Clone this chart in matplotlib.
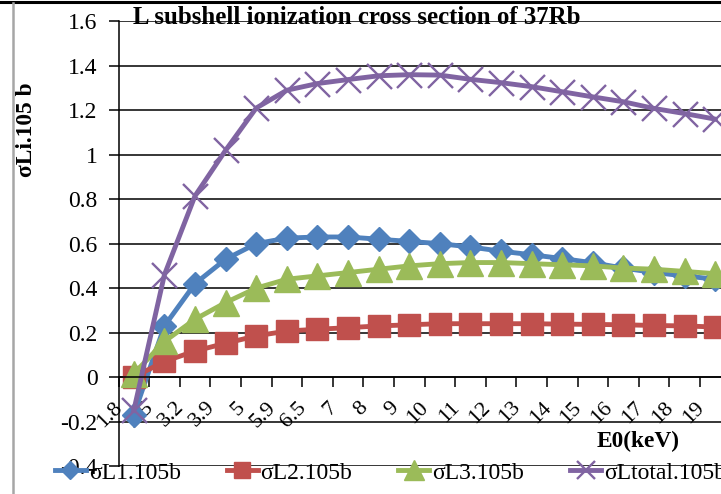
import numpy as np
import matplotlib
matplotlib.use('Agg')
import matplotlib.pyplot as plt
import matplotlib.transforms as mtransforms
from matplotlib.lines import Line2D

# data
energies = ['1.8', '2.5', '3.2', '3.9', '5', '5.9', '6.5', '7', '8', '9',
            '10', '11', '12', '13', '14', '15', '16', '17', '18', '19']
sL1 = [-0.17, 0.23, 0.42, 0.53, 0.60, 0.625, 0.63, 0.63, 0.62, 0.61,
       0.60, 0.585, 0.566, 0.55, 0.533, 0.514, 0.49, 0.47, 0.455, 0.44]
sL2 = [0.0, 0.07, 0.117, 0.152, 0.185, 0.207, 0.215, 0.222, 0.23, 0.235,
       0.24, 0.24, 0.24, 0.24, 0.238, 0.237, 0.235, 0.232, 0.23, 0.225]
sL3 = [0.015, 0.16, 0.26, 0.335, 0.40, 0.44, 0.455, 0.47, 0.485, 0.50,
       0.51, 0.515, 0.515, 0.51, 0.505, 0.50, 0.49, 0.485, 0.475, 0.465]
sLtot = [-0.15, 0.46, 0.815, 1.02, 1.21, 1.29, 1.32, 1.338, 1.355, 1.36,
         1.358, 1.339, 1.324, 1.306, 1.283, 1.26, 1.238, 1.208, 1.185, 1.16]
names = ['σL1.105b', 'σL2.105b', 'σL3.105b', 'σLtotal.105b']
ytick_vals = [-0.4, -0.2, 0, 0.2, 0.4, 0.6, 0.8, 1.0, 1.2, 1.4, 1.6]
ytick_labels = ['-0.4', '-0.2', '0', '0.2', '0.4', '0.6', '0.8', '1', '1.2', '1.4', '1.6']

plt.rcParams['font.family'] = ['Liberation Serif', 'DejaVu Serif']

W, H = 721, 494
fig = plt.figure(figsize=(W / 100, H / 100), dpi=100)
left, right, top, bot = 118.5, 730.6, 21.3, 466.0
ax = fig.add_axes([left / W, 1 - bot / H, (right - left) / W, (bot - top) / H])

x = np.arange(len(energies))
styles = [
    ('#4F81BD', 'D', 12, 1.0),
    ('#C0504D', 's', 16, 1.0),
    ('#9BBB59', '^', 19, 1.0),
    ('#8064A2', 'x', 18, 1.7),
]
lines = []
for vals, name, (c, m, ms, mew) in zip([sL1, sL2, sL3, sLtot], names, styles):
    ln, = ax.plot(x, vals, color=c, lw=3.5, marker=m, ms=ms, mew=mew,
                  mec=c, mfc=c, label=name)
    lines.append(ln)

ax.set_xlim(-0.5, len(energies) - 0.5)
ax.set_ylim(-0.4, 1.6)
ax.set_yticks(ytick_vals, ytick_labels)
ax.yaxis.grid(True, color='black', lw=1.1)
ax.set_axisbelow(True)

for s in ['top', 'right']:
    ax.spines[s].set_visible(False)
ax.spines['bottom'].set_position(('data', 0))
ax.spines['left'].set_linewidth(1.1)
ax.spines['bottom'].set_linewidth(1.1)

ax.tick_params(axis='y', direction='out', length=7.2, width=1.1, pad=8, labelsize=17)
ax.set_xticks(x, energies, rotation=45, ha='right')
ax.set_xticks(np.arange(len(energies) + 1) - 0.5, minor=True)
ax.tick_params(axis='x', which='major', length=0, pad=15, labelsize=16)
ax.tick_params(axis='x', which='minor', direction='out', length=7.5, width=1.1)
shift = mtransforms.ScaledTranslation(-7 / 100, 0, fig.dpi_scale_trans)
for lab in ax.get_xticklabels():
    lab.set_transform(lab.get_transform() + shift)

fig.text(357 / W, 1 - 17.5 / H, 'L subshell ionization cross section of 37Rb',
         ha='center', va='center', fontsize=17.9, fontweight='bold')
fig.text(27 / W, 1 - 130 / H, 'σLi.105 b', rotation=90, ha='center', va='center',
         fontsize=16.8, fontweight='bold')
fig.text(638 / W, 1 - 441 / H, 'E0(keV)', ha='center', va='center',
         fontsize=16.8, fontweight='bold')

fig.legend(handles=lines, loc='center left', bbox_to_anchor=(55 / W, 1 - 473 / H),
           ncol=4, frameon=False, fontsize=17, handlelength=1.3, handletextpad=0.13,
           columnspacing=1.95, borderpad=0, borderaxespad=0, markerscale=0.75)

# chart frame edges
fig.add_artist(Line2D([0, 1], [1 - 2 / H, 1 - 2 / H], color='black', lw=2.2))
fig.add_artist(Line2D([12.5 / W, 12.5 / W], [0, 1 - 3 / H], color='#a6a6a6', lw=1.8))

fig.savefig('out.png', dpi=100)
